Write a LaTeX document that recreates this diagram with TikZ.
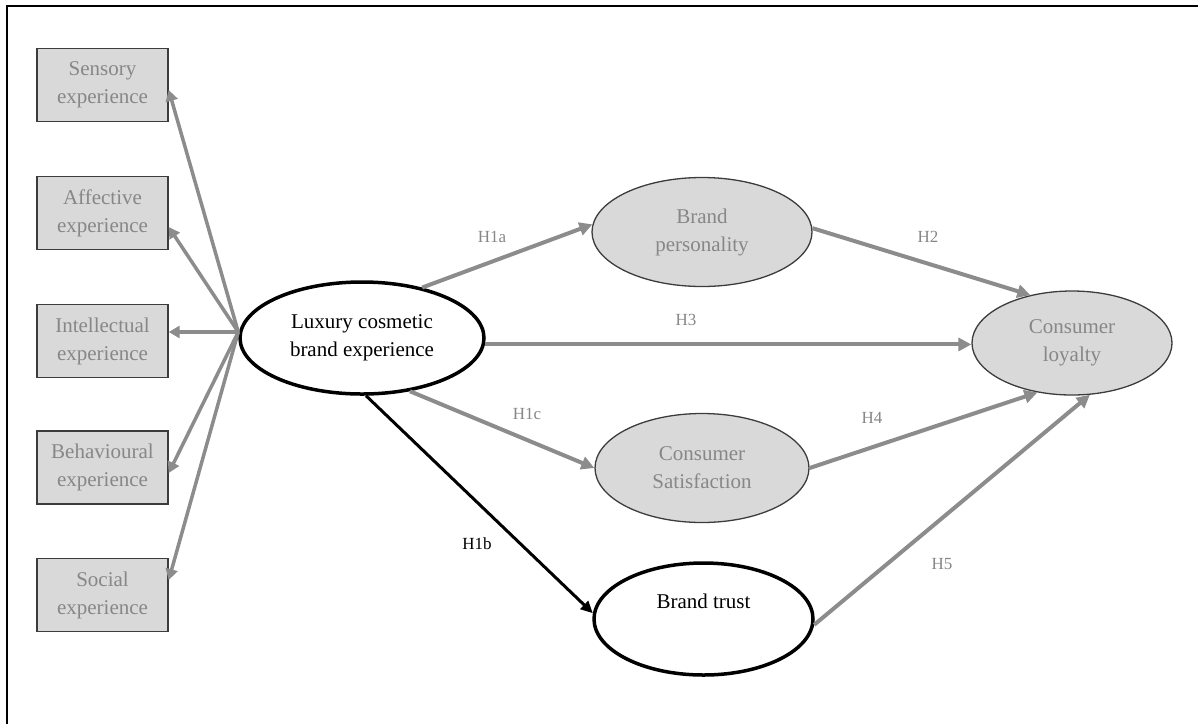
\documentclass[tikz,border=0pt]{standalone}
\usepackage{fontspec}
\setmainfont{Liberation Serif}
\usetikzlibrary{shapes.geometric,arrows.meta}
\definecolor{boxfill}{HTML}{D9D9D9}
\definecolor{linkgray}{HTML}{8C8C8C}
\definecolor{labelgray}{HTML}{878787}
\definecolor{edgegray}{HTML}{3C3C3C}
\begin{document}
\begin{tikzpicture}[x=1pt,y=-1pt,
  nodefont/.style={font=\fontsize{21}{28}\selectfont},
  dimbox/.style={rectangle, draw=edgegray, line width=1.4pt, fill=boxfill,
    minimum width=131pt, minimum height=73pt, inner sep=0pt, align=center,
    text=labelgray, nodefont},
  latent/.style={ellipse, draw=edgegray, line width=1.3pt, fill=boxfill,
    inner sep=0pt, align=center, text=labelgray, nodefont},
  focal/.style={ellipse, draw=black, line width=3.5pt, fill=white,
    inner sep=0pt, align=center, text=black, nodefont},
  fanarrow/.style={draw=linkgray, line width=3.5pt,
    -{Triangle[length=11pt,width=12pt]}},
  patharrow/.style={draw=linkgray, line width=4pt,
    -{Triangle[length=13pt,width=13pt]}},
  keyarrow/.style={draw=black, line width=3pt,
    -{Triangle[length=12pt,width=11pt]}},
  hyp/.style={font=\fontsize{17}{20}\selectfont, text=labelgray, inner sep=0pt}
]
\useasboundingbox (0,0) rectangle (1198,724);

% outer frame
\draw[line width=2pt] (7,724) -- (7,6) -- (1198,6);

% experience dimensions
\node[dimbox] (sens)  at (102.5,85)    {Sensory\\experience};
\node[dimbox] (aff)   at (102.5,213)   {Affective\\experience};
\node[dimbox] (intel) at (102.5,341)   {Intellectual\\experience};
\node[dimbox] (behav) at (102.5,467.5) {Behavioural\\experience};
\node[dimbox] (soc)   at (102.5,595)   {Social\\experience};

% constructs
\node[focal, minimum width=244pt, minimum height=112pt] (lux) at (362,338)
  {Luxury cosmetic\\brand experience};
\node[latent, minimum width=220pt, minimum height=109pt] (bp) at (702,232)
  {Brand\\personality};
\node[latent, minimum width=214pt, minimum height=109pt] (cs) at (702,468)
  {Consumer\\Satisfaction};
\node[latent, minimum width=200pt, minimum height=104pt] (cl) at (1072,343)
  {Consumer\\loyalty};
\node[focal, minimum width=219pt, minimum height=112pt] (trust) at (703.5,619)
  {Brand trust\\\strut};

% fan towards the dimensions
\coordinate (hub) at ([yshift=6pt]lux.west);
\draw[fanarrow] (hub) -- ([yshift=-5pt]sens.east);
\draw[fanarrow] (hub) -- ([yshift=-14pt]aff.east);
\draw[fanarrow] (hub) -- (hub -| intel.east);
\draw[fanarrow] (hub) -- ([yshift=-5.5pt]behav.east);
\draw[fanarrow] (hub) -- ([yshift=15pt]soc.east);

% hypothesised paths
\draw[patharrow] (lux.40) -- (bp.176);
\draw[patharrow] (lux.-3) -- (lux.-3 -| cl.west);
\draw[patharrow] (lux.-48) -- (cs.180);
\draw[keyarrow]  (lux.-86) -- (trust.177);
\draw[patharrow] (bp.2) -- (cl.131);
\draw[patharrow] (cs.0) -- (cl.235);
\draw[patharrow] (trust.-3) -- (cl.-71);

% hypothesis labels
\node[hyp] (h1a) at (492,237) {H1a};
\node[hyp] (h3)  at (686,320) {H3};
\node[hyp] (h1c) at (527,414) {H1c};
\node[hyp, text=black] (h1b) at (477,544) {H1b};
\node[hyp] (h2)  at (928,237) {H2};
\node[hyp] (h4)  at (872,418) {H4};
\node[hyp] (h5)  at (942,564) {H5};
\end{tikzpicture}
\end{document}
